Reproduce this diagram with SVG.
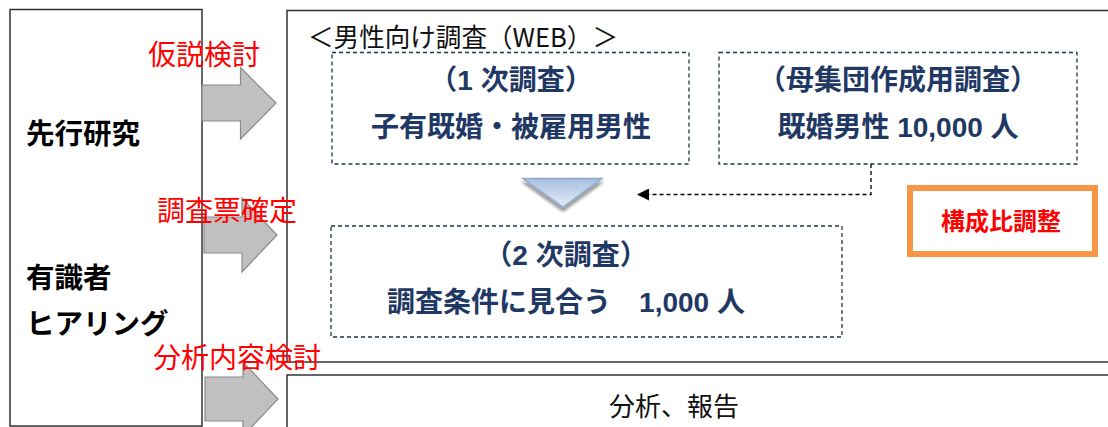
<svg xmlns="http://www.w3.org/2000/svg" width="1108" height="427" viewBox="0 0 1108 427">
<defs>
<linearGradient id="tri" x1="0" y1="0" x2="0" y2="1">
<stop offset="0" stop-color="#a8c0e0"/>
<stop offset="1" stop-color="#e4ecf6"/>
</linearGradient>
<filter id="sh" x="-20%" y="-20%" width="140%" height="160%">
<feGaussianBlur in="SourceAlpha" stdDeviation="1.5"/>
<feOffset dx="0" dy="4"/>
<feComponentTransfer><feFuncA type="linear" slope="0.4"/></feComponentTransfer>
<feMerge><feMergeNode/><feMergeNode in="SourceGraphic"/></feMerge>
</filter>
<marker id="ah" viewBox="0 0 10 10" refX="10" refY="5" markerWidth="15" markerHeight="12" markerUnits="userSpaceOnUse" orient="auto">
<path d="M0,0 L10,5 L0,10 Z" fill="#000"/>
</marker>
</defs>
<style>
.frame{fill:#fff;stroke:#333;stroke-width:1.5}
.dash{fill:#fff;stroke:#1f3550;stroke-width:1.3;stroke-dasharray:4,3}
.blk{fill:#c0c0c0;stroke:#8a8a8a;stroke-width:1.2}
.red{font-family:"Noto Sans CJK JP","Liberation Sans",sans-serif;font-size:28px;fill:#ff0000}
.lbl{font-family:"Noto Sans CJK JP","Liberation Sans",sans-serif;font-size:28.5px;font-weight:bold;fill:#000}
.blue{font-family:"Liberation Sans","Noto Sans CJK JP",sans-serif;font-size:28px;font-weight:bold;fill:#1f3864;text-anchor:middle}
.plain{font-family:"Noto Sans CJK JP","Liberation Sans",sans-serif;font-size:26px;fill:#111}
</style>
<rect width="1108" height="427" fill="#fff"/>

<g id="left">
<rect class="frame" x="10" y="9.5" width="192" height="416.5"/>
<text class="lbl" x="26" y="144">先行研究</text>
<text class="lbl" x="26" y="288">有識者</text>
<text class="lbl" x="26" y="334">ヒアリング</text>
</g>

<g id="main">
<rect class="frame" x="287" y="10.5" width="840" height="351.5"/>
<text class="plain" x="308" y="47" textLength="310" lengthAdjust="spacingAndGlyphs">＜男性向け調査（WEB）＞</text>
</g>

<g id="bottom">
<rect class="frame" x="287" y="375" width="840" height="70"/>
<text class="plain" x="609" y="416">分析、報告</text>
</g>

<g id="survey1">
<rect class="dash" x="332" y="52.5" width="357" height="111.5"/>
<text class="blue" x="511" y="90">（1 次調査）</text>
<text class="blue" x="511" y="137">子有既婚・被雇用男性</text>
</g>

<g id="survey0">
<rect class="dash" x="719" y="52.5" width="358" height="111.5"/>
<text class="blue" x="898" y="90">（母集団作成用調査）</text>
<text class="blue" x="898" y="137">既婚男性 10,000 人</text>
</g>

<g id="survey2">
<rect class="dash" x="331" y="226" width="511" height="111"/>
<text class="blue" x="566" y="265">（2 次調査）</text>
<text class="blue" x="566" y="312" xml:space="preserve">調査条件に見合う　1,000 人</text>
</g>

<g id="adjust">
<rect x="910" y="188" width="185" height="66" fill="#fff" stroke="#f79646" stroke-width="6"/>
<text x="1001" y="230" text-anchor="middle" font-family="Noto Sans CJK JP, Liberation Sans, sans-serif" font-size="24" font-weight="bold" fill="#ff0000">構成比調整</text>
</g>

<g id="connectors">
<path class="blk" d="M202,85 H240.5 V67.5 L276,103 L240.5,139 V121 H202 Z"/>
<path class="blk" d="M204,217 H242 V198 L277,235 L242,272 V253 H204 Z"/>
<path class="blk" d="M205,377 H243 V362 L278,399 L243,436 V421 H205 Z"/>
<path d="M523,178.5 H602 L563,207 Z" fill="url(#tri)" stroke="#8eaad0" stroke-width="1.5" filter="url(#sh)"/>
<path d="M871,164 V194.5 H637" fill="none" stroke="#000" stroke-width="1.3" stroke-dasharray="4,3" marker-end="url(#ah)"/>
</g>

<g id="redlabels">
<text class="red" x="148" y="65">仮説検討</text>
<text class="red" x="157" y="221">調査票確定</text>
<text class="red" x="153" y="368">分析内容検討</text>
</g>
</svg>
